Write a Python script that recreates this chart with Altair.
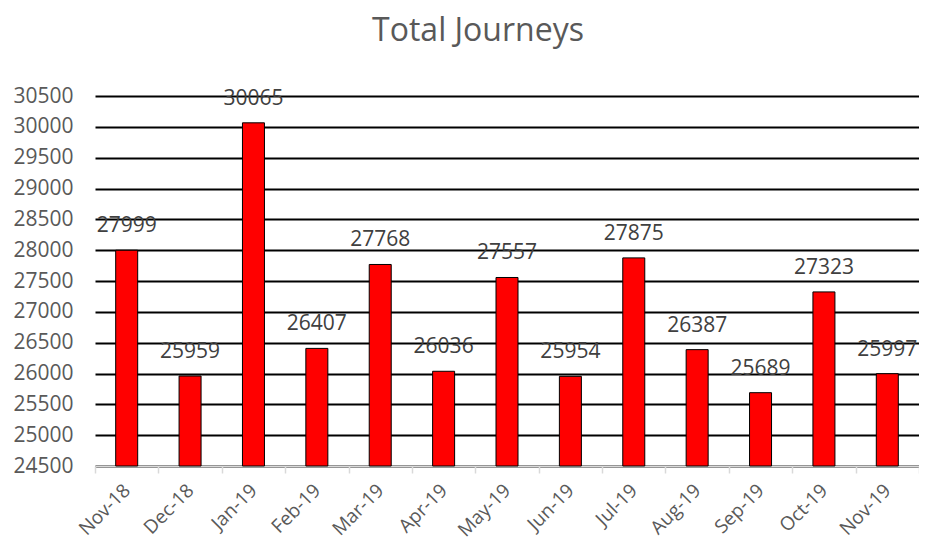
import altair as alt
import pandas as pd

months = ["Nov-18", "Dec-18", "Jan-19", "Feb-19", "Mar-19", "Apr-19", "May-19",
          "Jun-19", "Jul-19", "Aug-19", "Sep-19", "Oct-19", "Nov-19"]
journeys = [27999, 25959, 30065, 26407, 27768, 26036, 27557,
            25954, 27875, 26387, 25689, 27323, 25997]
y_ticks = list(range(24500, 30501, 500))

df = pd.DataFrame({"month": months, "journeys": journeys})

FONT = "Open Sans"
GRAY = "#595959"

x = alt.X("month:N", sort=months, title=None,
          scale=alt.Scale(paddingInner=0, paddingOuter=0),
          axis=alt.Axis(labelAngle=-45, labelAlign="right", labelBaseline="middle",
                        labelFontSize=19, labelColor=GRAY, labelFont=FONT,
                        labelPadding=14, domainColor="#d9d9d9", domainWidth=1.5,
                        tickColor="#d9d9d9", tickWidth=1.5, tickSize=7,
                        tickBand="extent", grid=False))
y = alt.Y("journeys:Q", title=None,
          scale=alt.Scale(domain=[24500, 30500], zero=False, nice=False),
          axis=alt.Axis(values=y_ticks, tickCount=30, format="d", labelOverlap=False,
                        grid=True, gridColor="black", gridWidth=2,
                        domain=False, ticks=False, labelFontSize=21, labelColor=GRAY,
                        labelFont=FONT, labelPadding=22))

bars = alt.Chart(df).mark_bar(size=22, color="#ff0000", stroke="black",
                              strokeWidth=1).encode(x=x, y=y, y2=alt.datum(24500))
labels = alt.Chart(df).mark_text(fontSize=21, font=FONT, color="#404040",
                                 baseline="alphabetic", dy=-18).encode(
    x=x, y=y, text="journeys:Q")

chart = (bars + labels).properties(
    width=824, height=370,
    title=alt.TitleParams("Total Journeys", fontSize=32, font=FONT, color=GRAY,
                          fontWeight="normal", offset=37, dx=-29),
    autosize=alt.AutoSizeParams(type="none"),
    padding={"left": 87, "top": 88, "right": 0, "bottom": 86},
).configure_view(stroke=None)

chart.save("out.html", embed_options={"renderer": "svg", "actions": False})
